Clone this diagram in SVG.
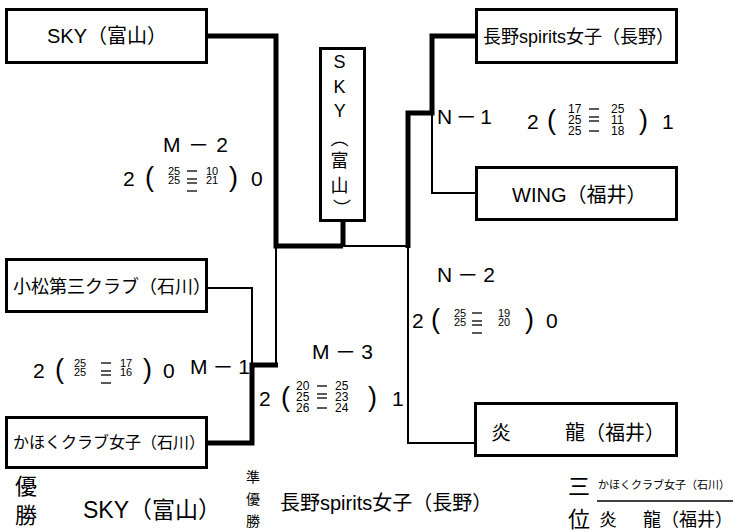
<svg xmlns="http://www.w3.org/2000/svg" width="735" height="532" viewBox="0 0 735 532">
<style>
text { font-family: 'Liberation Sans','Noto Sans CJK JP',sans-serif; fill:#000; }
.box { fill:#fff; stroke:#000; stroke-width:3; }
.thick { fill:none; stroke:#000; stroke-width:5; }
.thin { fill:none; stroke:#000; stroke-width:2; }
.dash { stroke:#000; stroke-width:1.3; }
.lbl { font-size:21px; }
.big { font-size:21px; }
.par { font-size:27px; }
.s2 { font-size:11px; }
.s3 { font-size:12px; }
</style>
<rect width="735" height="532" fill="#fff"/>
<g id="connectors">
<polyline class="thick" points="207,36 276,36 276,246 343,246"/>
<line class="thick" x1="343" y1="221" x2="343" y2="246"/>
<polyline class="thick" points="476,36 432,36 432,113 408,113 408,248"/>
<line class="thin" x1="343" y1="246" x2="408" y2="246"/>
<polyline class="thin" points="432,113 432,193 476,193"/>
<polyline class="thin" points="408,246 408,443 476,443"/>
<line class="thin" x1="276" y1="246" x2="276" y2="365"/>
<polyline class="thin" points="208,288 252,288 252,365"/>
<polyline class="thick" points="208,443 252,443 252,365 278,365"/>
</g>
<g id="sky">
<rect class="box" x="6.5" y="9.5" width="200" height="53"/>
<text x="47" y="43" font-size="20">SKY（富山）</text>
</g>
<g id="nagano">
<rect class="box" x="476.5" y="9.5" width="200" height="53"/>
<text x="483" y="43" font-size="18">長野spirits女子（長野）</text>
</g>
<g id="wing">
<rect class="box" x="476.5" y="167.5" width="200" height="52"/>
<text x="512" y="202" font-size="20">WING（福井）</text>
</g>
<g id="komatsu">
<rect class="box" x="6.5" y="259.5" width="200" height="52"/>
<text x="13" y="293" font-size="18">小松第三クラブ（石川）</text>
</g>
<g id="kahoku">
<rect class="box" x="6.5" y="417.5" width="200" height="50"/>
<text x="13" y="448" font-size="16">かほくクラブ女子（石川）</text>
</g>
<g id="enryu">
<rect class="box" x="475.5" y="403.5" width="201" height="52"/>
<text y="440" font-size="20"><tspan x="491">炎</tspan><tspan x="565">龍（福井）</tspan></text>
</g>
<g id="champion">
<rect class="box" x="320.5" y="48.5" width="44" height="172"/>
<text font-size="18" text-anchor="middle">
<tspan x="342" y="68">S</tspan>
<tspan x="342" y="93">K</tspan>
<tspan x="342" y="117">Y</tspan>
<tspan x="342" y="145">︵</tspan>
<tspan x="342" y="167">富</tspan>
<tspan x="342" y="192">山</tspan>
<tspan x="342" y="215">︶</tspan>
</text>
</g>
<g id="m2">
<text class="lbl" x="163" y="152" textLength="65" lengthAdjust="spacing">M－2</text>
<text class="big" x="123" y="186">2</text>
<text class="par" x="145" y="186">(</text>
<text class="s2"><tspan x="168" y="175">25</tspan><tspan x="168" y="184">25</tspan></text>
<line class="dash" x1="187" y1="171" x2="197" y2="171"/>
<line class="dash" x1="187" y1="179" x2="197" y2="179"/>
<line class="dash" x1="187" y1="183" x2="197" y2="183"/>
<line class="dash" x1="187" y1="191" x2="197" y2="191"/>
<text class="s2"><tspan x="206" y="175">10</tspan><tspan x="206" y="184">21</tspan></text>
<text class="par" x="229" y="186">)</text>
<text class="big" x="251" y="186">0</text>
</g>
<g id="n1">
<text class="lbl" x="437" y="124" textLength="55" lengthAdjust="spacing">N－1</text>
<text class="big" x="527" y="129">2</text>
<text class="par" x="547" y="129">(</text>
<text class="s3"><tspan x="568" y="113">17</tspan><tspan x="568" y="124">25</tspan><tspan x="568" y="135">25</tspan></text>
<line class="dash" x1="589" y1="109" x2="599" y2="109"/>
<line class="dash" x1="589" y1="117" x2="599" y2="117"/>
<line class="dash" x1="589" y1="121" x2="599" y2="121"/>
<line class="dash" x1="589" y1="131" x2="599" y2="131"/>
<text class="s3"><tspan x="611" y="113">25</tspan><tspan x="611" y="124">11</tspan><tspan x="611" y="135">18</tspan></text>
<text class="par" x="639" y="129">)</text>
<text class="big" x="662" y="129">1</text>
</g>
<g id="n2">
<text class="lbl" x="437" y="282" textLength="58" lengthAdjust="spacing">N－2</text>
<text class="big" x="412" y="328">2</text>
<text class="par" x="431" y="328">(</text>
<text class="s2"><tspan x="454" y="317">25</tspan><tspan x="454" y="326">25</tspan></text>
<line class="dash" x1="472" y1="313" x2="482" y2="313"/>
<line class="dash" x1="472" y1="321" x2="482" y2="321"/>
<line class="dash" x1="472" y1="325" x2="482" y2="325"/>
<line class="dash" x1="472" y1="333" x2="482" y2="333"/>
<text class="s2"><tspan x="498" y="317">19</tspan><tspan x="498" y="326">20</tspan></text>
<text class="par" x="525" y="328">)</text>
<text class="big" x="546" y="328">0</text>
</g>
<g id="m3">
<text class="lbl" x="312" y="359" textLength="61" lengthAdjust="spacing">M－3</text>
<text class="big" x="259" y="406">2</text>
<text class="par" x="281" y="406">(</text>
<text class="s3"><tspan x="296" y="390">20</tspan><tspan x="296" y="401">25</tspan><tspan x="296" y="412">26</tspan></text>
<line class="dash" x1="317" y1="386" x2="327" y2="386"/>
<line class="dash" x1="317" y1="394" x2="327" y2="394"/>
<line class="dash" x1="317" y1="398" x2="327" y2="398"/>
<line class="dash" x1="317" y1="408" x2="327" y2="408"/>
<text class="s3"><tspan x="335" y="390">25</tspan><tspan x="335" y="401">23</tspan><tspan x="335" y="412">24</tspan></text>
<text class="par" x="368" y="406">)</text>
<text class="big" x="392" y="406">1</text>
</g>
<g id="m1">
<text class="lbl" x="190" y="374" textLength="60" lengthAdjust="spacing">M－1</text>
<text class="big" x="33" y="378">2</text>
<text class="par" x="55" y="378">(</text>
<text class="s2"><tspan x="74" y="367">25</tspan><tspan x="74" y="376">25</tspan></text>
<line class="dash" x1="101" y1="363" x2="111" y2="363"/>
<line class="dash" x1="101" y1="371" x2="111" y2="371"/>
<line class="dash" x1="101" y1="375" x2="111" y2="375"/>
<line class="dash" x1="101" y1="383" x2="111" y2="383"/>
<text class="s2"><tspan x="120" y="367">17</tspan><tspan x="120" y="376">16</tspan></text>
<text class="par" x="143" y="378">)</text>
<text class="big" x="163" y="378">0</text>
</g>
<g id="results">
<text x="15" y="494" font-size="22">優</text>
<text x="15" y="523" font-size="22">勝</text>
<text x="83" y="518" font-size="23">SKY（富山）</text>
<text x="246" y="482" font-size="14">準</text>
<text x="246" y="504" font-size="14">優</text>
<text x="246" y="526" font-size="14">勝</text>
<text x="280" y="510" font-size="20">長野spirits女子（長野）</text>
<text x="568" y="494" font-size="22">三</text>
<text x="568" y="527" font-size="22">位</text>
<text x="598" y="489" font-size="11">かほくクラブ女子（石川）</text>
<line x1="597" y1="501" x2="733" y2="501" stroke="#000" stroke-width="1.5"/>
<text y="526" font-size="18"><tspan x="599">炎</tspan><tspan x="643">龍（福井）</tspan></text>
</g>
</svg>
